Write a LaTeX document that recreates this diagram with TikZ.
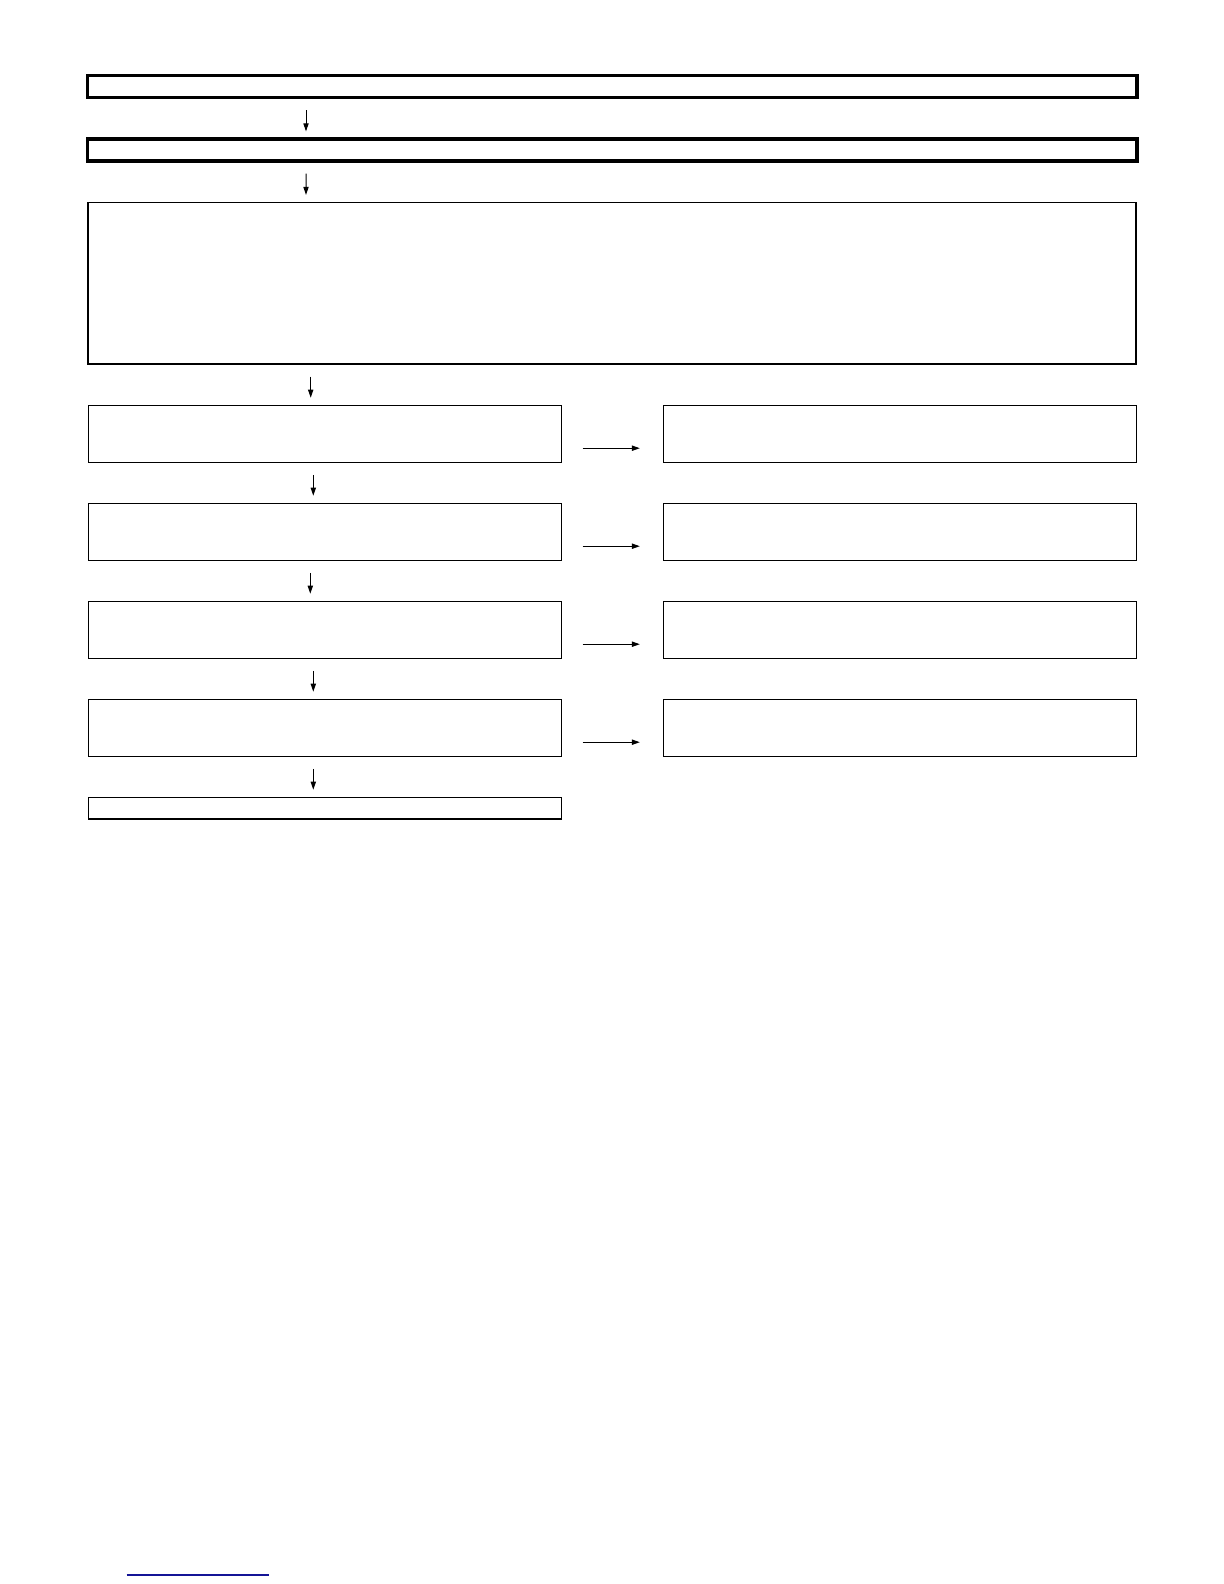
\documentclass[tikz,border=0pt]{standalone}
\usetikzlibrary{math, arrows.meta}
\definecolor{linkblue}{RGB}{20,20,150}

\begin{document}
\begin{tikzpicture}[x=0.5pt, y=-0.5pt, line width=0.65pt,
    frame/.style={draw, rectangle, inner sep=0pt, outer sep=0pt},
    thickframe/.style={frame, line width=1.75pt},
    flow/.style={-{Triangle[length=4pt, width=2.6pt]}, line width=0.5pt, shorten <=6.3pt, shorten >=3.8pt},
    side/.style={-{Triangle[length=4pt, width=2.6pt]}, line width=0.6pt, shorten <=10.5pt, shorten >=11.7pt}]
    \tikzmath{
        \pagewidth=1224;
        \pageheight=1584;
        \firstrow=433.8;
        \rowstep=98;
    }

    \useasboundingbox (0, 0) rectangle (\pagewidth, \pageheight);

    % header bars
    \node [thickframe, minimum width=524.75pt, minimum height=11pt] (title) at (612.45, 86.7) {};
    \node [thickframe, minimum width=524.75pt, minimum height=11pt] (subtitle) at (612.45, 150) {};
    \node [frame, minimum width=524pt, minimum height=80.75pt] (intro) at (612, 283.25) {};

    % step rows
    \foreach \i [evaluate=\i as \y using {\firstrow+(\i-1)*\rowstep}] in {1,...,4} {
        \node [frame, minimum width=236.7pt, minimum height=28.5pt] (l\i) at (325, \y) {};
        \node [frame, minimum width=236.5pt, minimum height=28.5pt] (r\i) at (899.8, \y) {};
        \draw [side] ([yshift=-7.2pt]l\i.east) -- ([yshift=-7.2pt]r\i.west);
    }
    \node [frame, minimum width=236.7pt, minimum height=10.85pt] (last) at (325, 808.15) {};

    % vertical flow
    \draw [flow] ([xshift=109.15pt]title.south west) -- ([xshift=109.15pt]subtitle.north west);
    \draw [flow] ([xshift=109.15pt]subtitle.south west) -- ([xshift=109pt]intro.north west);
    \draw [flow] ([xshift=111.35pt]intro.south west) -- ([xshift=111.2pt]l1.north west);
    \draw [flow] ([xshift=112.5pt]l1.south west) -- ([xshift=112.5pt]l2.north west);
    \draw [flow] ([xshift=111pt]l2.south west) -- ([xshift=111pt]l3.north west);
    \draw [flow] ([xshift=112.5pt]l3.south west) -- ([xshift=112.5pt]l4.north west);
    \draw [flow] ([xshift=112.5pt]l4.south west) -- ([xshift=112.5pt]last.north west);

    % link underline
    \draw [linkblue, line width=0.6pt] (126.7, 1575) -- (269, 1575);
\end{tikzpicture}
\end{document}
